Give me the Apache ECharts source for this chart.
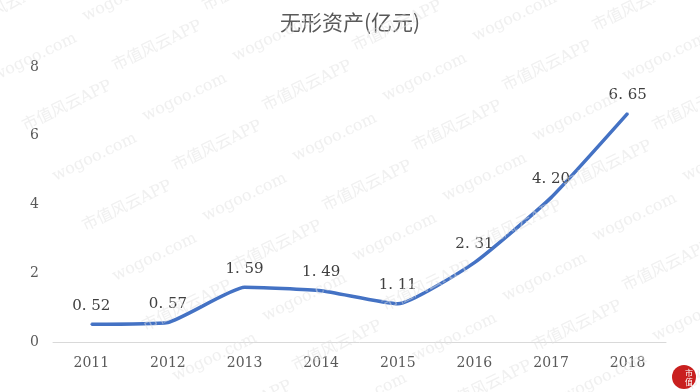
<!DOCTYPE html>
<html><head><meta charset="utf-8">
<script src="https://cdn.jsdelivr.net/npm/echarts@6/dist/echarts.min.js"></script>
<style>html,body{margin:0;padding:0;background:#fff}#c{width:700px;height:392px}</style>
</head><body><div id="c"></div>
<script>
var categories = ['2011','2012','2013','2014','2015','2016','2017','2018'];
var values = [0.52, 0.57, 1.59, 1.49, 1.11, 2.31, 4.20, 6.65];
var yTicks = [0, 2, 4, 6, 8];

var chart = echarts.init(document.getElementById('c'));
var marks = [];
var words = ['市值风云APP', 'wogoo.com'];
for (var r = -2; r < 9; r++) {
  for (var k = 0; k < 8; k++) {
    marks.push({
      type: 'text', silent: true, z: 100,
      x: k * 120 + r * 30 - 40, y: r * 50 + k * -10 + 20,
      rotation: 0.45,
      style: { text: words[(r + k) % 2], fill: '#e2e2e2', opacity: 0.5, font: '16px "DejaVu Serif", "Noto Sans CJK SC"' }
    });
  }
}
marks.push({ type: 'circle', shape: { cx: 684, cy: 377, r: 12 }, style: { fill: '#c9201f' }, z: 101 });
marks.push({ type: 'text', x: 689, y: 377, z: 102, style: { text: '市\n值', fill: '#fff', font: '8px "Noto Sans CJK SC"', lineHeight: 9, align: 'center', verticalAlign: 'middle' } });

chart.setOption({
  animation: false,
  backgroundColor: '#fff',
  title: {
    text: '无形资产(亿元)', left: 'center', top: 7,
    textStyle: { fontFamily: '"Noto Sans CJK SC"', fontSize: 21, fontWeight: 'normal', color: '#595959' }
  },
  grid: { left: 53, right: 34, top: 67, bottom: 50 },
  xAxis: {
    type: 'category', data: categories, boundaryGap: true,
    axisLine: { lineStyle: { color: '#d9d9d9', width: 1 } },
    axisTick: { show: false },
    axisLabel: { color: '#595959', fontSize: 14, fontFamily: '"DejaVu Serif", "Liberation Serif"', margin: 14 }
  },
  yAxis: {
    type: 'value', min: yTicks[0], max: yTicks[yTicks.length - 1], interval: 2,
    axisLine: { show: false }, axisTick: { show: false }, splitLine: { show: false },
    axisLabel: { color: '#595959', fontSize: 14, fontFamily: '"DejaVu Serif", "Liberation Serif"', margin: 14 }
  },
  series: [{
    type: 'line', data: values, smooth: 0.15, symbol: 'circle', symbolSize: 2, showSymbol: true,
    itemStyle: { color: '#4472C4' },
    lineStyle: { color: '#4472C4', width: 3.5 },
    label: {
      show: true, position: 'top', distance: 10, color: '#404040', fontSize: 15,
      fontFamily: '"DejaVu Serif", "Liberation Serif"',
      formatter: function (p) { return p.value.toFixed(2).replace('.', '. '); }
    }
  }],
  graphic: marks
});
</script></body></html>
